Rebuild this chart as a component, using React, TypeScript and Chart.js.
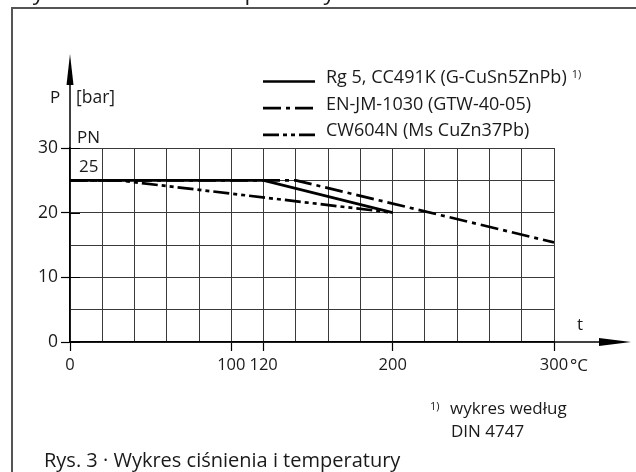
import React, { useEffect, useRef } from "react";
import { Chart, registerables } from "chart.js";

Chart.register(...registerables);

// ---- data ----
const rgTemps = [0, 120, 200];
const rgPressure = [25, 25, 20];
const enTemps = [0, 140, 300];
const enPressure = [25, 25, 15.4];
const cwTemps = [0, 30, 200];
const cwPressure = [25, 25, 20];

const seriesLabels = [
  "Rg 5, CC491K (G-CuSn5ZnPb)",
  "EN-JM-1030 (GTW-40-05)",
  "CW604N (Ms CuZn37Pb)",
];
const xTickLabels = [0, 100, 120, 200, 300];
const yTickLabels = [0, 10, 20, 30];
const xRange = [0, 300];
const xGridStep = 20;
const yRange = [0, 30];
const yGridStep = 5;
const pnValue = 25;

const headingText = "Wykres ciśnienia i temperatury";
const captionText = "Rys. 3 · Wykres ciśnienia i temperatury";
const footnoteLines = ["wykres według", "DIN 4747"];
const footnoteMark = "1)";
const yAxisTitle = "P";
const yAxisUnit = "[bar]";
const xAxisTitle = "t";
const xAxisUnit = "°C";
const pnLabel = "PN";

const FONT = "'Open Sans', sans-serif";
const W = 636;
const H = 472;
const TEXT = "#1a1a1a";

function toPoints(xs: number[], ys: number[]) {
  return xs.map((x, i) => ({ x, y: ys[i] }));
}

const overlayPlugin = {
  id: "overlay",
  afterDraw(chart: any) {
    const ctx: CanvasRenderingContext2D = chart.ctx;
    const xs = chart.scales.x;
    const ys = chart.scales.y;
    const area = chart.chartArea;
    const x0 = xs.getPixelForValue(xRange[0]);
    const y0 = ys.getPixelForValue(yRange[0]);
    ctx.save();

    // frame
    ctx.strokeStyle = "#555";
    ctx.lineWidth = 2;
    ctx.beginPath();
    ctx.moveTo(12, H);
    ctx.lineTo(12, 8);
    ctx.lineTo(W, 8);
    ctx.stroke();

    // heading (cropped)
    ctx.fillStyle = TEXT;
    ctx.font = `22.5px ${FONT}`;
    ctx.textAlign = "left";
    ctx.textBaseline = "alphabetic";
    ctx.fillText(headingText, 12, 0);

    // y axis arrow
    ctx.strokeStyle = "#000";
    ctx.fillStyle = "#000";
    ctx.lineWidth = 1.5;
    ctx.beginPath();
    ctx.moveTo(x0, area.top);
    ctx.lineTo(x0, 84);
    ctx.stroke();
    ctx.beginPath();
    ctx.moveTo(x0, 54);
    ctx.lineTo(x0 - 3.5, 85);
    ctx.lineTo(x0 + 3.5, 85);
    ctx.closePath();
    ctx.fill();

    // x axis arrow
    ctx.beginPath();
    ctx.moveTo(area.right, y0);
    ctx.lineTo(600, y0);
    ctx.stroke();
    ctx.beginPath();
    ctx.moveTo(631, y0);
    ctx.lineTo(599, y0 - 4);
    ctx.lineTo(599, y0 + 4);
    ctx.closePath();
    ctx.fill();

    // inner tick extensions at labelled y ticks
    ctx.lineWidth = 1;
    yTickLabels.forEach((v) => {
      const py = Math.round(ys.getPixelForValue(v)) + 0.5;
      ctx.beginPath();
      ctx.moveTo(x0, py);
      ctx.lineTo(x0 + 10, py);
      ctx.stroke();
    });

    // axis titles
    ctx.fillStyle = TEXT;
    ctx.font = `17px ${FONT}`;
    ctx.textAlign = "left";
    ctx.fillText(yAxisTitle, 50, 103);
    ctx.font = `17.5px ${FONT}`;
    ctx.fillText(yAxisUnit, 76, 103);
    ctx.font = `17px ${FONT}`;
    ctx.fillText(pnLabel, 77, 143);
    ctx.fillText(String(pnValue), 79, 172);
    ctx.textAlign = "center";
    ctx.fillText(xAxisTitle, 580, 330);
    ctx.textAlign = "left";
    ctx.font = `17px ${FONT}`;
    ctx.fillText(xAxisUnit, xs.getPixelForValue(xRange[1]) + 16, 371);

    // legend
    const dsets = chart.data.datasets;
    dsets.forEach((ds: any, i: number) => {
      const ly = 81.5 + i * 26.7;
      ctx.strokeStyle = ds.borderColor;
      ctx.lineWidth = ds.borderWidth;
      ctx.setLineDash(ds.borderDash || []);
      ctx.beginPath();
      ctx.moveTo(263, ly);
      ctx.lineTo(315, ly);
      ctx.stroke();
      ctx.setLineDash([]);
      ctx.fillStyle = TEXT;
      ctx.font = `18px ${FONT}`;
      ctx.textAlign = "left";
      ctx.textBaseline = "alphabetic";
      ctx.fillText(ds.label, 326, ly + 1.5);
      if (i === 0) {
        const w = ctx.measureText(ds.label).width;
        ctx.font = `11px ${FONT}`;
        ctx.fillText(footnoteMark, 326 + w + 5, ly - 4);
      }
    });

    // footnote
    ctx.fillStyle = TEXT;
    ctx.font = `11px ${FONT}`;
    ctx.fillText(footnoteMark, 430, 410);
    ctx.font = `17px ${FONT}`;
    ctx.fillText(footnoteLines[0], 450, 414);
    ctx.fillText(footnoteLines[1], 451, 437);

    // caption
    ctx.font = `20px ${FONT}`;
    ctx.fillText(captionText, 44, 467);

    ctx.restore();
  },
};

export default function App() {
  const ref = useRef<HTMLCanvasElement | null>(null);

  useEffect(() => {
    if (!ref.current) return;
    Chart.defaults.font.family = FONT;
    const chart = new Chart(ref.current, {
      type: "line",
      data: {
        datasets: [
          {
            label: seriesLabels[0],
            data: toPoints(rgTemps, rgPressure),
            borderColor: "#000",
            borderWidth: 2.7,
            borderDash: [],
            pointRadius: 0,
            fill: false,
            tension: 0,
          },
          {
            label: seriesLabels[1],
            data: toPoints(enTemps, enPressure),
            borderColor: "#000",
            borderWidth: 2.7,
            borderDash: [18, 5, 4, 5],
            pointRadius: 0,
            fill: false,
            tension: 0,
          },
          {
            label: seriesLabels[2],
            data: toPoints(cwTemps, cwPressure),
            borderColor: "#000",
            borderWidth: 2.7,
            borderDash: [16, 4, 4, 4, 4, 4],
            pointRadius: 0,
            fill: false,
            tension: 0,
          },
        ],
      },
      options: {
        responsive: false,
        animation: false,
        layout: { padding: { left: 0, top: 148, right: 82, bottom: 0 } },
        plugins: {
          legend: { display: false },
          tooltip: { enabled: false },
          title: { display: false },
        },
        scales: {
          x: {
            type: "linear",
            min: xRange[0],
            max: xRange[1],
            afterBuildTicks: (s: any) => {
              const t = [];
              for (let v = xRange[0]; v <= xRange[1]; v += xGridStep) t.push({ value: v });
              s.ticks = t;
            },
            afterFit: (s: any) => {
              s.height = 130;
            },
            border: { display: true, color: "#000", width: 1.5 },
            grid: {
              color: "#3a3a3a",
              lineWidth: 1,
              drawTicks: true,
              tickLength: 9,
              tickWidth: 1.2,
              tickColor: (c: any) =>
                c.tick && xTickLabels.includes(c.tick.value) ? "#000" : "rgba(0,0,0,0)",
            },
            ticks: {
              autoSkip: false,
              maxRotation: 0,
              padding: 4,
              color: TEXT,
              font: { family: FONT, size: 16.5 },
              callback: (v: any) => (xTickLabels.includes(Number(v)) ? String(v) : ""),
            },
          },
          y: {
            type: "linear",
            min: yRange[0],
            max: yRange[1],
            afterBuildTicks: (s: any) => {
              const t = [];
              for (let v = yRange[0]; v <= yRange[1]; v += yGridStep) t.push({ value: v });
              s.ticks = t;
            },
            afterFit: (s: any) => {
              s.width = 70;
            },
            border: { display: true, color: "#000", width: 1.5 },
            grid: {
              color: "#3a3a3a",
              lineWidth: 1,
              drawTicks: true,
              tickLength: 9,
              tickWidth: 1.2,
              tickColor: (c: any) =>
                c.tick && yTickLabels.includes(c.tick.value) ? "#000" : "rgba(0,0,0,0)",
            },
            ticks: {
              autoSkip: false,
              padding: 3,
              color: TEXT,
              font: { family: FONT, size: 17.5 },
              callback: (v: any) => (yTickLabels.includes(Number(v)) ? String(v) : ""),
            },
          },
        },
      },
      plugins: [overlayPlugin],
    } as any);
    return () => chart.destroy();
  }, []);

  return (
    <div style={{ position: "absolute", left: 0, top: 0, width: W, height: H, background: "#fff" }}>
      <canvas ref={ref} width={W} height={H} style={{ width: W, height: H, display: "block" }} />
    </div>
  );
}
